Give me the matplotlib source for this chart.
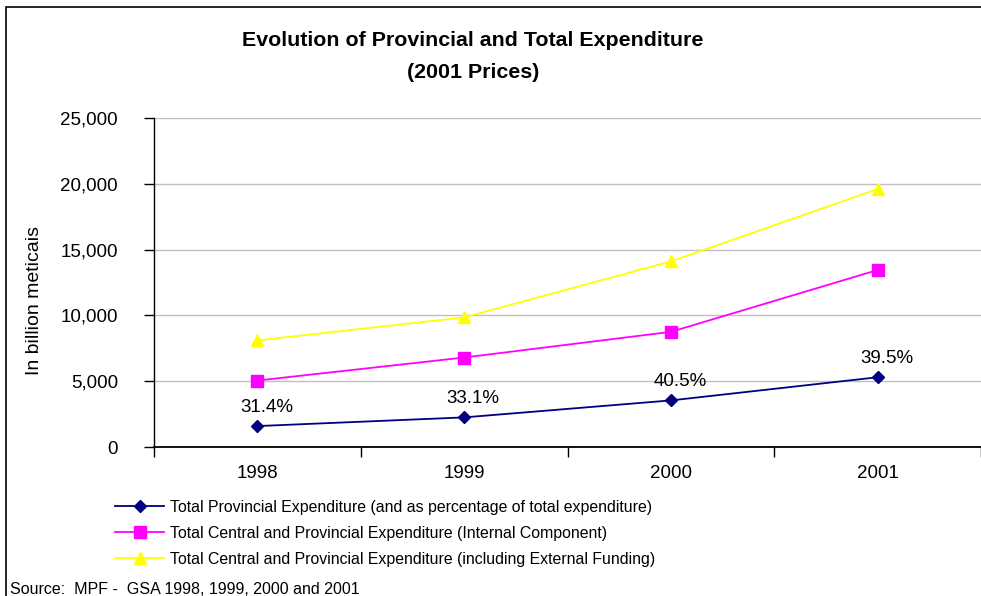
import matplotlib.pyplot as plt
from matplotlib.patches import Rectangle
from matplotlib.ticker import FuncFormatter

plt.rcParams['font.family'] = ['Liberation Sans', 'DejaVu Sans']

years = ['1998', '1999', '2000', '2001']
provincial = [1590, 2250, 3540, 5300]
internal = [5050, 6800, 8750, 13450]
with_external = [8100, 9850, 14100, 19600]
pct_labels = ['31.4%', '33.1%', '40.5%', '39.5%']

fig = plt.figure(figsize=(9.81, 5.96), dpi=100)
ax = fig.add_axes([154 / 981, 149 / 596, 827 / 981, 329 / 596])

x = list(range(len(years)))
ax.plot(x, provincial, color='#000080', marker='D', markersize=6, lw=1.3,
        label='Total Provincial Expenditure (and as percentage of total expenditure)')
ax.plot(x, internal, color='#ff00ff', marker='s', markersize=8, lw=1.3,
        label='Total Central and Provincial Expenditure (Internal Component)')
ax.plot(x, with_external, color='#ffff00', marker='^', markersize=8, lw=1.3,
        label='Total Central and Provincial Expenditure (including External Funding)')

# percentage of total expenditure above the provincial line
for xi, v, t in zip(x, provincial, pct_labels):
    ax.annotate(t, (xi, v), xytext=(9, 19), textcoords='offset pixels',
                ha='center', va='center', fontsize=13.5)

ax.set_xlim(-0.5, 3.5)
ax.set_ylim(0, 25000)
ax.set_yticks(range(0, 25001, 5000))
ax.yaxis.set_major_formatter(FuncFormatter(lambda v, p: f'{int(v):,}'))
ax.set_xticks([-0.5, 0.5, 1.5, 2.5, 3.5])
ax.set_xticklabels([])
ax.set_xticks(x, minor=True)
ax.set_xticklabels(years, minor=True)
ax.tick_params(axis='x', which='major', length=7, direction='out', width=1)
ax.tick_params(axis='x', which='minor', length=0, pad=13, labelsize=13.5)
ax.tick_params(axis='y', length=7, direction='out', width=1, pad=19, labelsize=13.5)
ax.grid(axis='y', color='#c0c0c0', lw=1)
ax.set_axisbelow(True)
for s in ['top', 'right']:
    ax.spines[s].set_visible(False)
ax.spines['left'].set_linewidth(1)
ax.spines['bottom'].set_linewidth(1.3)

fig.text(35 / 981, 1 - 300 / 596, 'In billion meticais', rotation=90,
         ha='center', va='center', fontsize=14)

fig.text(473 / 981, 1 - 41 / 596, 'Evolution of Provincial and Total Expenditure',
         ha='center', va='center', fontsize=15.4, fontweight='bold')
fig.text(473 / 981, 1 - 73 / 596, '(2001 Prices)',
         ha='center', va='center', fontsize=15.4, fontweight='bold')

fig.legend(loc='upper left', bbox_to_anchor=(115 / 981, 1 - 500 / 596),
           frameon=False, fontsize=11.4, handlelength=3.1, handletextpad=0.35,
           labelspacing=0.68, borderpad=0, borderaxespad=0)

fig.text(10 / 981, 1 - 590 / 596, 'Source:  MPF -  GSA 1998, 1999, 2000 and 2001',
         ha='left', va='center', fontsize=11.5)

fig.patches.append(Rectangle((6 / 981, -0.1), 1.2, 1.1 - 7 / 596,
                             transform=fig.transFigure, fill=False,
                             edgecolor='black', lw=1.2))

fig.savefig('out.png', dpi=100)
